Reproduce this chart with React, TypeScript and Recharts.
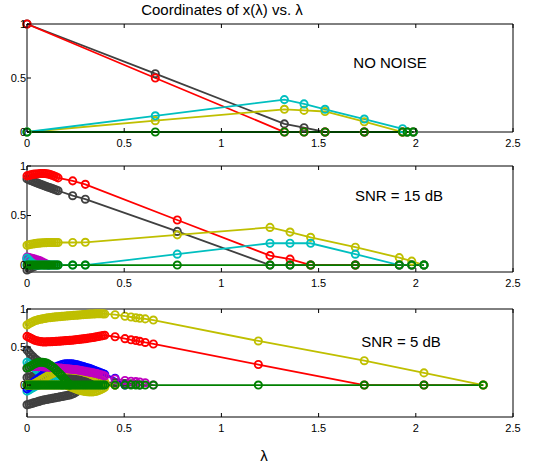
import { LineChart, Line, XAxis, YAxis } from "recharts";

const FONT = '"Liberation Sans", Arial, Helvetica, sans-serif';

// matlab-ish colour order
const BLUE = "#0000ff";
const GREEN = "#008000";
const RED = "#ff0000";
const CYAN = "#00bfbf";
const MAGENTA = "#bf00bf";
const YELLOW = "#bfbf00";
const BLACK = "#404040";

const xTicks = [0, 0.5, 1, 1.5, 2, 2.5];
const yTicks = [0, 0.5, 1];

// --- NO NOISE ---
const lam1 = [0, 0.66, 1.324, 1.425, 1.533, 1.735, 1.932, 1.956, 1.987];
const k1 = [1, 0.54, 0.075, 0.04, 0, 0, 0, 0, 0];
const r1 = [1, 0.5, 0, 0, 0, 0, 0, 0, 0];
const y1 = [0, 0.105, 0.21, 0.2, 0.19, 0.095, 0, 0, 0];
const c1 = [0, 0.15, 0.3, 0.26, 0.21, 0.12, 0.03, 0, 0];
const g1 = [0, 0, 0, 0, 0, 0, 0, 0, 0];

// --- SNR = 15 dB ---
const lam2 = [
  0, 0.01, 0.02, 0.03, 0.04, 0.05, 0.06, 0.07, 0.08, 0.09, 0.1, 0.11, 0.12, 0.13, 0.14, 0.15, 0.16,
  0.235, 0.3, 0.773, 1.25, 1.353, 1.459, 1.689, 1.915, 1.979, 2.042,
];
const r2 = [
  0.9, 0.905, 0.91, 0.915, 0.918, 0.92, 0.922, 0.924, 0.925, 0.924, 0.922, 0.918, 0.913, 0.906, 0.898, 0.89, 0.88,
  0.85, 0.815, 0.455, 0.095, 0.06, 0, 0, 0, 0, 0,
];
const k2 = [
  0.87, 0.862, 0.853, 0.845, 0.837, 0.83, 0.822, 0.815, 0.808, 0.8, 0.793, 0.786, 0.779, 0.772, 0.765, 0.758, 0.75,
  0.7, 0.665, 0.34, 0, 0, 0, 0, 0, 0, 0,
];
const y2 = [
  0.2, 0.205, 0.21, 0.213, 0.216, 0.219, 0.221, 0.223, 0.225, 0.226, 0.227, 0.228, 0.228, 0.228, 0.228, 0.228, 0.228,
  0.228, 0.23, 0.305, 0.38, 0.333, 0.28, 0.18, 0.075, 0.04, 0,
];
const c2 = [
  0.07, 0.05, 0.03, 0.015, 0, 0, 0, 0, 0, 0, 0, 0, 0, 0, 0, 0, 0,
  0, 0, 0.11, 0.22, 0.22, 0.22, 0.11, 0, 0, 0,
];
const g2 = [
  0, 0, 0, 0, 0, 0, 0, 0, 0, 0, 0, 0, 0, 0, 0, 0, 0,
  0, 0, 0, 0, 0, 0, 0, 0, 0, 0,
];
const b2 = [0.06, 0.055, 0.05, 0.045, 0.04, 0.035, 0.03, 0.024, 0.018, 0.012, 0.006, 0];
const m2 = [0.08, 0.075, 0.07, 0.065, 0.06, 0.054, 0.048, 0.04, 0.03, 0.02, 0.01, 0];
const yN2 = [0.04, 0.045, 0.045, 0.04, 0.035, 0.03, 0.022, 0.015, 0.008, 0];
const kN2 = [-0.05, -0.04, -0.03, -0.02, -0.012, -0.005, 0];

// --- SNR = 5 dB ---
const lam3 = [
  0, 0.01, 0.02, 0.03, 0.04, 0.05, 0.06, 0.07, 0.08, 0.09,
  0.1, 0.11, 0.12, 0.13, 0.14, 0.15, 0.16, 0.17, 0.18, 0.19,
  0.2, 0.21, 0.22, 0.23, 0.24, 0.25, 0.26, 0.27, 0.28, 0.29,
  0.3, 0.31, 0.32, 0.33, 0.34, 0.35, 0.36, 0.37, 0.38, 0.39, 0.4,
  0.453, 0.504, 0.535, 0.56, 0.58, 0.608, 0.65, 1.19, 1.735, 2.042, 2.347,
];
const y3 = [
  0.79, 0.805, 0.82, 0.833, 0.845, 0.853, 0.86, 0.865, 0.87, 0.875,
  0.88, 0.884, 0.887, 0.89, 0.893, 0.896, 0.898, 0.9, 0.903, 0.905,
  0.908, 0.91, 0.912, 0.914, 0.916, 0.918, 0.92, 0.922, 0.924, 0.926,
  0.928, 0.93, 0.932, 0.934, 0.935, 0.936, 0.937, 0.937, 0.937, 0.936, 0.935,
  0.925, 0.905, 0.895, 0.885, 0.878, 0.87, 0.855, 0.58, 0.32, 0.16, 0,
];
const r3 = [
  0.64, 0.628, 0.615, 0.602, 0.59, 0.582, 0.575, 0.571, 0.568, 0.567,
  0.568, 0.569, 0.57, 0.571, 0.573, 0.574, 0.576, 0.578, 0.58, 0.582,
  0.584, 0.586, 0.588, 0.59, 0.593, 0.595, 0.598, 0.601, 0.604, 0.607,
  0.61, 0.614, 0.618, 0.622, 0.626, 0.63, 0.635, 0.64, 0.645, 0.65, 0.655,
  0.635, 0.61, 0.595, 0.585, 0.575, 0.56, 0.54, 0.27, 0, 0, 0,
];
const g3 = [
  0, 0, 0, 0, 0, 0, 0, 0, 0, 0,
  0, 0, 0, 0, 0, 0, 0, 0, 0, 0,
  0, 0, 0, 0, 0, 0, 0, 0, 0, 0,
  0, 0, 0, 0, 0, 0, 0, 0, 0, 0, 0,
  0, 0, 0, 0, 0, 0, 0, 0, 0, 0, 0,
];
const kUp3 = [
  0.46, 0.43, 0.4, 0.375, 0.35, 0.33, 0.31, 0.295, 0.28, 0.265,
  0.25, 0.24, 0.23, 0.22, 0.21, 0.2, 0.19, 0.18, 0.17, 0.163,
  0.155, 0.148, 0.14, 0.132, 0.125, 0.118, 0.11, 0.102, 0.095, 0.088,
  0.08, 0.075, 0.07, 0.065, 0.06, 0.055, 0.05, 0.045, 0.04, 0.037, 0.035,
  0.03, 0.02, 0.015, 0.01, 0,
];
const kMid3 = [
  0.1, 0.105, 0.11, 0.115, 0.12, 0.12, 0.12, 0.12, 0.12, 0.118,
  0.115, 0.113, 0.11, 0.108, 0.105, 0.103, 0.1, 0.098, 0.095, 0.093,
  0.09, 0.088, 0.085, 0.083, 0.08, 0.078, 0.075, 0.073, 0.07, 0.068,
  0.065, 0.063, 0.06, 0.055, 0.05, 0.045, 0.04, 0.035, 0.03, 0.025, 0.02,
  0,
];
const kLow3 = [
  -0.26, -0.252, -0.245, -0.238, -0.23, -0.222, -0.215, -0.208, -0.2, -0.195,
  -0.19, -0.185, -0.18, -0.175, -0.17, -0.165, -0.16, -0.155, -0.15, -0.145,
  -0.14, -0.135, -0.13, -0.12, -0.11, -0.095, -0.08, -0.06, -0.04, -0.02,
  0,
];
const cA3 = [0.3, 0.28, 0.26, 0.24, 0.22, 0.2, 0.18, 0.165, 0.15, 0.135, 0.12, 0.105, 0.09, 0.075, 0.06, 0.045, 0.03, 0.015, 0];
const cB3 = [-0.08, -0.065, -0.05, -0.035, -0.02, -0.01, 0];
const b3 = [
  -0.05, -0.025, 0, 0.025, 0.05, 0.07, 0.09, 0.11, 0.13, 0.15,
  0.17, 0.185, 0.2, 0.215, 0.23, 0.24, 0.25, 0.26, 0.27, 0.275,
  0.28, 0.28, 0.28, 0.278, 0.275, 0.27, 0.265, 0.258, 0.25, 0.243,
  0.235, 0.228, 0.22, 0.21, 0.2, 0.19, 0.18, 0.17, 0.16, 0.15, 0.14,
  0.09, 0,
];
const m3 = [
  0.22, 0.23, 0.24, 0.243, 0.245, 0.245, 0.245, 0.243, 0.24, 0.238,
  0.237, 0.235, 0.233, 0.232, 0.23, 0.228, 0.225, 0.223, 0.22, 0.218,
  0.215, 0.213, 0.21, 0.208, 0.205, 0.203, 0.2, 0.195, 0.19, 0.185,
  0.18, 0.175, 0.17, 0.165, 0.16, 0.155, 0.15, 0.143, 0.135, 0.128, 0.12,
  0.08, 0.06, 0.05, 0.045, 0.04, 0.03, 0,
];
const yA3 = [
  0, 0, 0, 0.01, 0.02, 0.035, 0.05, 0.065, 0.08, 0.095,
  0.11, 0.125, 0.14, 0.15, 0.16, 0.17, 0.18, 0.185, 0.19, 0.195,
  0.2, 0.2, 0.2, 0.198, 0.195, 0.193, 0.19, 0.185, 0.18, 0.173,
  0.165, 0.158, 0.15, 0.14, 0.13, 0.115, 0.1, 0.085, 0.07, 0.055, 0.04,
  0,
];
const yB3 = [
  0, 0, 0, 0, 0, 0, 0, 0, 0, 0,
  0, 0, 0, 0, 0, 0, 0, 0, 0, 0,
  0, -0.01, -0.02, -0.03, -0.04, -0.05, -0.06, -0.068, -0.075, -0.08,
  -0.085, -0.088, -0.09, -0.09, -0.09, -0.085, -0.08, -0.07, -0.06, -0.045, -0.03,
  0,
];
const gN3 = [
  0.22, 0.235, 0.25, 0.265, 0.28, 0.29, 0.3, 0.3, 0.3, 0.295,
  0.29, 0.275, 0.26, 0.24, 0.22, 0.195, 0.17, 0.145, 0.12, 0.09,
  0.06, 0.03, 0,
];

type Series = { color: string; values: number[] };

const XTickBottom = (p: any) => (
  <g>
    <line x1={p.x} x2={p.x} y1={p.y} y2={p.y - 4} stroke="#000" />
    <text x={p.x} y={p.y + 15} textAnchor="middle" fontSize={11} fontFamily={FONT} fill="#000">
      {p.payload.value}
    </text>
  </g>
);
const XTickTop = (p: any) => <line x1={p.x} x2={p.x} y1={p.y} y2={p.y + 4} stroke="#000" />;
const YTickLeft = (p: any) => (
  <g>
    <line x1={p.x} x2={p.x + 4} y1={p.y} y2={p.y} stroke="#000" />
    <text x={p.x - 1} y={p.y} dy="0.36em" textAnchor="end" fontSize={11} fontFamily={FONT} fill="#000">
      {p.payload.value}
    </text>
  </g>
);
const YTickRight = (p: any) => <line x1={p.x} x2={p.x - 4} y1={p.y} y2={p.y} stroke="#000" />;

function Panel({
  top,
  height,
  marginTop,
  lam,
  series,
  yDomain,
}: {
  top: number;
  height: number;
  marginTop: number;
  lam: number[];
  series: Series[];
  yDomain: [number, number];
}) {
  const rows = lam.map((l, i) => {
    const row: Record<string, number | undefined> = { lam: l };
    series.forEach((s, j) => {
      row["s" + j] = s.values[i];
    });
    return row;
  });
  const axisLine = { stroke: "#000", strokeWidth: 1 };
  return (
    <div style={{ position: "absolute", left: 0, top }}>
      <LineChart width={533} height={height} data={rows} margin={{ top: marginTop, right: 0, bottom: 8, left: 0 }}>
        <XAxis dataKey="lam" type="number" domain={[0, 2.5]} ticks={xTicks} interval={0} height={20} tickSize={0} tickMargin={0} tickLine={false} axisLine={axisLine} tick={XTickBottom} />
        <XAxis xAxisId="t" orientation="top" dataKey="lam" type="number" domain={[0, 2.5]} ticks={xTicks} interval={0} height={1} tickSize={0} tickMargin={0} tickLine={false} axisLine={axisLine} tick={XTickTop} />
        <YAxis type="number" domain={yDomain} ticks={yTicks} interval={0} width={27} tickSize={0} tickMargin={0} tickLine={false} axisLine={axisLine} tick={YTickLeft} />
        <YAxis yAxisId="r" orientation="right" type="number" domain={yDomain} ticks={yTicks} interval={0} width={20} tickSize={0} tickMargin={0} tickLine={false} axisLine={axisLine} tick={YTickRight} />
        {series.map((s, j) => (
          <Line
            key={j}
            dataKey={"s" + j}
            stroke={s.color}
            strokeWidth={1.8}
            dot={{ r: 3.6, fill: "none", stroke: s.color, strokeWidth: 1.9 }}
            activeDot={false}
            isAnimationActive={false}
          />
        ))}
      </LineChart>
    </div>
  );
}

export default function App() {
  const labelStyle = { fontFamily: FONT, fontSize: 15, fill: "#000" };
  return (
    <div style={{ position: "absolute", left: 0, top: 0, width: 533, height: 467, background: "#fff" }}>
      <Panel
        top={0}
        height={160}
        marginTop={23}
        lam={lam1}
        yDomain={[0, 1]}
        series={[
          { color: BLACK, values: k1 },
          { color: RED, values: r1 },
          { color: YELLOW, values: y1 },
          { color: CYAN, values: c1 },
          { color: GREEN, values: g1 },
        ]}
      />
      <Panel
        top={150}
        height={150}
        marginTop={15}
        lam={lam2}
        yDomain={[-0.07, 1]}
        series={[
          { color: BLACK, values: kN2 },
          { color: YELLOW, values: yN2 },
          { color: BLUE, values: b2 },
          { color: MAGENTA, values: m2 },
          { color: BLACK, values: k2 },
          { color: RED, values: r2 },
          { color: YELLOW, values: y2 },
          { color: CYAN, values: c2 },
          { color: GREEN, values: g2 },
        ]}
      />
      <Panel
        top={295}
        height={150}
        marginTop={13}
        lam={lam3}
        yDomain={[-0.42, 1]}
        series={[
          { color: BLACK, values: kLow3 },
          { color: BLACK, values: kMid3 },
          { color: BLACK, values: kUp3 },
          { color: CYAN, values: cA3 },
          { color: CYAN, values: cB3 },
          { color: BLUE, values: b3 },
          { color: YELLOW, values: yA3 },
          { color: YELLOW, values: yB3 },
          { color: MAGENTA, values: m3 },
          { color: GREEN, values: gN3 },
          { color: RED, values: r3 },
          { color: YELLOW, values: y3 },
          { color: GREEN, values: g3 },
        ]}
      />
      <svg width={533} height={467} style={{ position: "absolute", left: 0, top: 0, pointerEvents: "none" }}>
        <text x={222} y={15} textAnchor="middle" {...labelStyle}>
          Coordinates of x(λ) vs. λ
        </text>
        <text x={390} y={68} textAnchor="middle" {...labelStyle}>
          NO NOISE
        </text>
        <text x={399} y={201} textAnchor="middle" {...labelStyle}>
          SNR = 15 dB
        </text>
        <text x={401} y={347} textAnchor="middle" {...labelStyle}>
          SNR = 5 dB
        </text>
        <text x={264} y={461} textAnchor="middle" {...labelStyle}>
          λ
        </text>
      </svg>
    </div>
  );
}
